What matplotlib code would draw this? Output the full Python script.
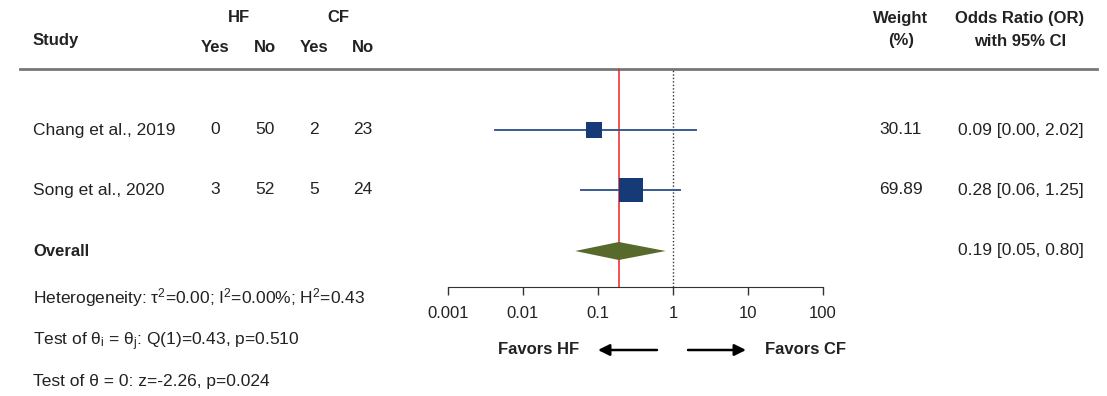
import numpy as np
import matplotlib.pyplot as plt
from matplotlib.patches import Polygon

plt.rcParams['font.family'] = ['Liberation Sans', 'DejaVu Sans']
plt.rcParams['mathtext.fontset'] = 'custom'
plt.rcParams['mathtext.rm'] = 'Liberation Sans'
plt.rcParams['mathtext.it'] = 'Liberation Sans:italic'

# data
studies = ["Chang et al., 2019", "Song et al., 2020"]
hf_yes = [0, 3]
hf_no = [50, 52]
cf_yes = [2, 5]
cf_no = [23, 24]
weights = [30.11, 69.89]
odds = [0.09, 0.28]
ci_lo = [0.0043, 0.06]
ci_hi = [2.02, 1.25]
ci_lo_txt = ["0.00", "0.06"]
overall_or = 0.19
overall_lo = 0.05
overall_hi = 0.80
ticks = [0.001, 0.01, 0.1, 1, 10, 100]
tick_labels = ["0.001", "0.01", "0.1", "1", "10", "100"]

txt = "#222222"
W, H = 1107, 396
fig = plt.figure(figsize=(W / 100, H / 100), dpi=100)

# text layer in pixel coordinates
ax = fig.add_axes([0, 0, 1, 1])
ax.set_xlim(0, W)
ax.set_ylim(H, 0)
ax.axis("off")

fs = 12.5
hb = dict(fontsize=12, fontweight="bold", color=txt, va="center")

ax.text(33, 41, "Study", ha="left", **hb)
ax.text(239, 18, "HF", ha="center", **hb)
ax.text(338, 18, "CF", ha="center", **hb)
for x, lab in zip([215, 265, 314, 363], ["Yes", "No", "Yes", "No"]):
    ax.text(x, 47, lab, ha="center", **hb)
ax.text(901, 18, "Weight", ha="center", **hb)
ax.text(901, 41, "(%)", ha="center", **hb)
ax.text(1020, 18, "Odds Ratio (OR)", ha="center", **hb)
ax.text(1020, 41, "with 95% CI", ha="center", **hb)
ax.plot([20, 1097], [69, 69], color="#777777", lw=2)

row_y = [130, 190]
for i, y in enumerate(row_y):
    ax.text(33, y, studies[i], ha="left", va="center", fontsize=fs, color=txt)
    for x, v in zip([215, 265, 314, 363], [hf_yes[i], hf_no[i], cf_yes[i], cf_no[i]]):
        ax.text(x, y, str(v), ha="center", va="center", fontsize=fs, color=txt)
    ax.text(901, y, f"{weights[i]:.2f}", ha="center", va="center", fontsize=fs, color=txt)
    ax.text(958, y, f"{odds[i]:.2f} [{ci_lo_txt[i]}, {ci_hi[i]:.2f}]",
            ha="left", va="center", fontsize=fs, color=txt)

ax.text(33, 251, "Overall", ha="left", va="center", fontsize=12, fontweight="bold", color=txt)
ax.text(958, 250, f"{overall_or:.2f} [{overall_lo:.2f}, {overall_hi:.2f}]",
        ha="left", va="center", fontsize=fs, color=txt)

ax.text(33, 303, r"Heterogeneity: τ$^2$=0.00; I$^2$=0.00%; H$^2$=0.43",
        ha="left", va="baseline", fontsize=fs, color=txt)
ax.text(33, 345, r"Test of θ$_\mathrm{i}$ = θ$_\mathrm{j}$: Q(1)=0.43, p=0.510",
        ha="left", va="baseline", fontsize=fs, color=txt)
ax.text(33, 386, "Test of θ = 0: z=-2.26, p=0.024",
        ha="left", va="baseline", fontsize=fs, color=txt)

# forest panel
x0, x1, ytop, ybot = 447.7, 823, 69, 287
fx = fig.add_axes([x0 / W, (H - ybot) / H, (x1 - x0) / W, (ybot - ytop) / H])
fx.patch.set_alpha(0)
fx.set_xscale("log")
fx.set_xlim(0.001, 100)
fx.set_ylim(ybot, ytop)
for s in ["top", "left", "right"]:
    fx.spines[s].set_visible(False)
fx.spines["bottom"].set_color("#333333")
fx.set_yticks([])
fx.set_xticks(ticks)
fx.set_xticklabels(tick_labels, fontsize=12, color=txt)
fx.minorticks_off()
fx.tick_params(axis="x", length=6, width=1, color="#333333", pad=8)

fx.axvline(overall_or, color="#ee2222", lw=1.1)
fx.axvline(1, color="#333333", lw=1, ls=(0, (1, 1.5)))

for i, y in enumerate(row_y):
    fx.plot([ci_lo[i], ci_hi[i]], [y, y], color="#3a5a90", lw=1.4, zorder=3)
    fx.plot(odds[i], y, marker="s", ms=2.1 * np.sqrt(weights[i]),
            color="#163a78", mew=0, zorder=4)

dy = 9
fx.add_patch(Polygon([[overall_lo, 251], [overall_or, 251 - dy], [overall_hi, 251],
                      [overall_or, 251 + dy]], closed=True, facecolor="#57692b",
                     edgecolor="none", zorder=4, clip_on=False))

# favors labels with arrows
ax.text(579, 350, "Favors HF", ha="right", va="center", fontsize=12,
        fontweight="bold", color=txt)
ax.text(765, 350, "Favors CF", ha="left", va="center", fontsize=12,
        fontweight="bold", color=txt)
ax.annotate("", xy=(598, 350), xytext=(657, 350),
            arrowprops=dict(arrowstyle="-|>", color="black", lw=1.8, mutation_scale=17,
                            shrinkA=0, shrinkB=0))
ax.annotate("", xy=(746, 350), xytext=(688, 350),
            arrowprops=dict(arrowstyle="-|>", color="black", lw=1.8, mutation_scale=17,
                            shrinkA=0, shrinkB=0))

fig.savefig("out.png", dpi=100)
